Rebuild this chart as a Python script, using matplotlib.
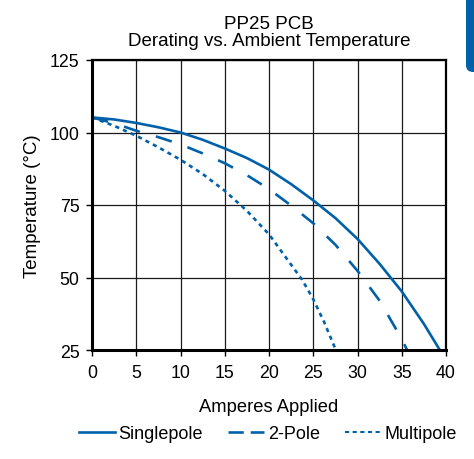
import matplotlib
matplotlib.use("Agg")
import matplotlib.pyplot as plt
from matplotlib.lines import Line2D
from matplotlib.patches import FancyBboxPatch

plt.rcParams['font.family'] = ['Liberation Sans', 'DejaVu Sans']
plt.rcParams['lines.scale_dashes'] = False

# данные
single_x = [0, 2.5, 5, 7.5, 10, 12.5, 15, 17.5, 20, 22.5, 25, 27.5, 30, 32.5, 35, 37.5, 39.3]
single_y = [105.2, 104.5, 103.3, 101.8, 100, 97.5, 94.5, 91.2, 87.2, 82.2, 76.6, 70.5, 63.3, 54.7, 45.2, 34, 25]
two_x = [0, 2.5, 5, 7.5, 10, 12.5, 15, 17.5, 20, 22.5, 25, 27.5, 30, 32.5, 35, 35.6]
two_y = [105.2, 103.2, 100.6, 98.4, 95.9, 92.8, 89.4, 85.3, 80.5, 74.8, 68.7, 61.3, 52.3, 42, 28.8, 25]
multi_x = [0, 2.5, 5, 7.5, 10, 12.5, 15, 17.5, 20, 22.5, 23.75, 25, 26.25, 27.55]
multi_y = [105.2, 102.3, 98.9, 94.9, 90.6, 85.7, 79.9, 73, 64.9, 54.4, 49.2, 42.5, 34.5, 25]
labels = ["Singlepole", "2-Pole", "Multipole"]
x_ticks = [0, 5, 10, 15, 20, 25, 30, 35, 40]
y_ticks = [25, 50, 75, 100, 125]

blue = "#0061AA"

fig = plt.figure(figsize=(4.74, 4.60), dpi=100)
ax = fig.add_axes([92/474, 1 - 351/460, (446 - 92)/474, (351 - 61)/460])

ax.plot(single_x, single_y, color=blue, lw=1.9, solid_capstyle="butt")
ax.plot(two_x, two_y, color=blue, lw=1.9, linestyle=(0, (12, 12)))
ax.plot(multi_x, multi_y, color=blue, lw=1.9, linestyle=(0, (3, 3)))

ax.set_xlim(0, 40)
ax.set_ylim(25, 125)
ax.set_xticks(x_ticks)
ax.set_yticks(y_ticks)
ax.grid(True, color="#1a1a1a", lw=0.9)
ax.set_axisbelow(True)
ax.tick_params(direction="out", length=4, width=1.0, labelsize=12.8)
ax.tick_params(axis="y", pad=5)
ax.tick_params(axis="x", pad=6)
for side in ["left", "bottom"]:
    ax.spines[side].set_linewidth(2.2)
for side in ["top", "right"]:
    ax.spines[side].set_linewidth(1.6)

ax.set_title("PP25 PCB\nDerating vs. Ambient Temperature", fontsize=13.5, pad=11, linespacing=0.95)
ax.set_xlabel("Amperes Applied", fontsize=13.2, labelpad=12)
ax.set_ylabel("Temperature (°C)", fontsize=13.5, labelpad=6)

handles = [
    Line2D([], [], color=blue, lw=1.9),
    Line2D([], [], color=blue, lw=1.9, linestyle=(0, (11, 5))),
    Line2D([], [], color=blue, lw=1.5, linestyle=(0, (3, 2.5))),
]
fig.legend(handles, labels, loc="center", bbox_to_anchor=(268/474, 1 - 435/460),
           ncol=3, frameon=False, fontsize=13, handlelength=2.0,
           handletextpad=0.2, columnspacing=1.4)

# синий уголок справа сверху
fig.patches.append(FancyBboxPatch((466/474, 1 - 73/460), 30/474, 90/460,
                                  boxstyle="round,pad=0,rounding_size=0.015",
                                  transform=fig.transFigure, color=blue, lw=0))

fig.savefig("out.png", dpi=100)
